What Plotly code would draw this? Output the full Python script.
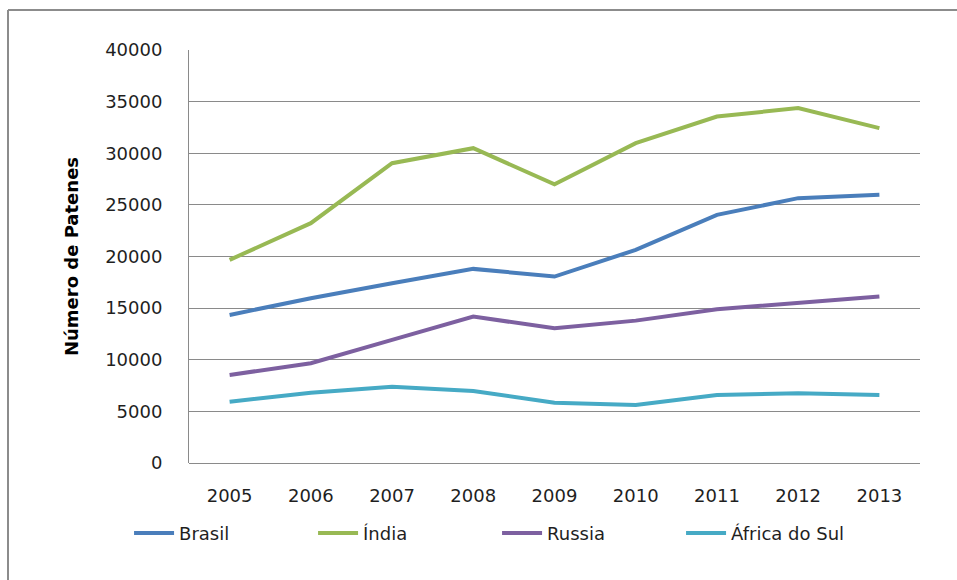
import plotly.graph_objects as go

# Patent counts per year for each country
anos = ["2005", "2006", "2007", "2008", "2009", "2010", "2011", "2012", "2013"]
brasil = [14340, 15960, 17410, 18800, 18060, 20640, 24030, 25650, 25970]
india = [19670, 23230, 29040, 30490, 27000, 30980, 33560, 34370, 32430]
russia = [8530, 9660, 11920, 14180, 13050, 13790, 14890, 15530, 16120]
africa_sul = [5940, 6810, 7390, 6980, 5840, 5620, 6590, 6750, 6590]

series = [
    ("Brasil", brasil, "#4A7EBB"),
    ("Índia", india, "#98B954"),
    ("Russia", russia, "#7D60A0"),
    ("África do Sul", africa_sul, "#46AAC5"),
]

W, H = 957, 580
ML, MR, MT, MB = 189, 37, 50, 117
FONT = "DejaVu Sans"
TXT = "#1f1f1f"

fig = go.Figure()
for nome, valores, cor in series:
    fig.add_trace(go.Scatter(
        x=anos, y=valores, name=nome, mode="lines",
        line=dict(color=cor, width=4),
    ))

# frame along the top and left edges of the image
pw = W - ML - MR
ph = H - MT - MB
def px_x(p):
    return (p - ML) / pw
def px_y(p):
    return 1 - (p - MT) / ph

frame = dict(type="line", xref="paper", yref="paper",
             line=dict(color="#8c8c8c", width=2), layer="above")
fig.add_shape(**frame, x0=px_x(8), x1=px_x(W + 5), y0=px_y(10), y1=px_y(10))
fig.add_shape(**frame, x0=px_x(8), x1=px_x(8), y0=px_y(10), y1=px_y(H + 5))

fig.update_layout(
    width=W, height=H,
    margin=dict(l=ML, r=MR, t=MT, b=MB),
    paper_bgcolor="white", plot_bgcolor="white",
    font=dict(family=FONT, size=18, color=TXT),
    showlegend=True,
    legend=dict(
        orientation="h", x=-0.082, xanchor="left", y=-0.17, yanchor="middle",
        font=dict(family=FONT, size=18, color=TXT),
        entrywidth=129, entrywidthmode="pixels",
        itemwidth=40,
    ),
    xaxis=dict(
        type="category", range=[-0.5, 8.5],
        showgrid=False, showline=False, zeroline=False,
        ticks="", ticklabelstandoff=20,
        tickfont=dict(family=FONT, size=18, color=TXT),
    ),
    yaxis=dict(
        range=[0, 40000], dtick=5000, tickformat="d",
        showgrid=True, gridcolor="#8a8a8a", gridwidth=1,
        showline=True, linecolor="#8a8a8a", linewidth=1,
        zeroline=True, zerolinecolor="#8a8a8a", zerolinewidth=1,
        ticks="", ticklabelstandoff=22,
        tickfont=dict(family=FONT, size=18, color=TXT),
        title=dict(text="<b>Número de Patenes</b>", standoff=21,
                   font=dict(family=FONT, size=18, color="#000000")),
    ),
)

fig.write_html("out.html")
